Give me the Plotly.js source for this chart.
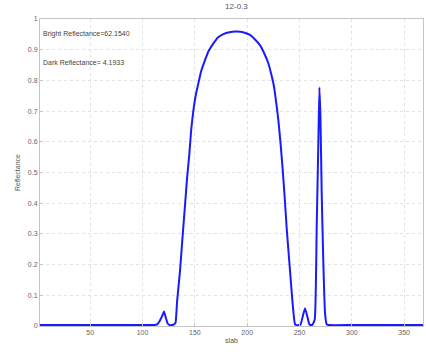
<!DOCTYPE html>
<html>
<head>
<meta charset="utf-8">
<script src="https://cdn.plot.ly/plotly-3.0.1.min.js"></script>
<style>html,body{margin:0;padding:0;background:#fff;}#chart{width:426px;height:354px;}</style>
</head>
<body>
<div id="chart"></div>
<script>
var slab = [2, 20, 40, 60, 80, 100, 110, 114, 117, 119, 120.5, 122, 124, 126, 128, 130, 131.5, 133, 135.8, 138, 140.5, 142.5, 144.7, 146.5, 148.5, 151, 153.3, 156, 159.7, 163, 167.6, 172, 177.2, 183, 190, 196, 202.7, 207, 212.2, 216, 220.2, 223, 225.6, 228, 229.8, 232, 233.9, 236, 237.7, 240, 241.6, 243.5, 245.7, 248, 251, 253, 255.3, 257.5, 259.5, 262, 264.5, 266.4, 268, 269, 270, 271.2, 272.8, 274.4, 276, 278, 300, 330, 368];
var reflectance = [0.003, 0.003, 0.003, 0.003, 0.003, 0.003, 0.003, 0.005, 0.02, 0.035, 0.047, 0.03, 0.008, 0.003, 0.003, 0.005, 0.01, 0.08, 0.18, 0.28, 0.39, 0.48, 0.56, 0.64, 0.70, 0.755, 0.79, 0.83, 0.866, 0.895, 0.92, 0.94, 0.951, 0.957, 0.959, 0.957, 0.948, 0.935, 0.915, 0.89, 0.856, 0.82, 0.78, 0.72, 0.67, 0.59, 0.51, 0.41, 0.32, 0.22, 0.15, 0.07, 0.006, 0.002, 0.005, 0.03, 0.058, 0.03, 0.005, 0.003, 0.02, 0.32, 0.6, 0.777, 0.68, 0.43, 0.2, 0.04, 0.005, 0.003, 0.003, 0.003, 0.003];
var xTicks = [50, 100, 150, 200, 250, 300, 350];
var yTicks = [0, 0.1, 0.2, 0.3, 0.4, 0.5, 0.6, 0.7, 0.8, 0.9, 1];
var yTickText = ['0', '0.1', '0.2', '0.3', '0.4', '0.5', '0.6', '0.7', '0.8', '0.9', '1'];
var titleText = '12-0.3';
var brightText = 'Bright Reflectance=62.1540';
var darkText = 'Dark Reflectance= 4.1933';

var trace = {
  x: slab, y: reflectance, type: 'scatter', mode: 'lines',
  line: {color: '#1a1aff', width: 2, shape: 'spline', smoothing: 0.4}, hoverinfo: 'skip'
};
var axisCommon = {
  showline: true, linecolor: '#c4c4c4', linewidth: 1, mirror: true,
  showgrid: true, gridcolor: '#e2e2e2', griddash: 'dot', gridwidth: 1,
  ticks: 'inside', ticklen: 3, tickcolor: '#c4c4c4', zeroline: false,
  tickfont: {family: 'Liberation Sans, Arial, sans-serif', size: 7, color: '#666'}
};
var layout = {
  width: 426, height: 354,
  margin: {l: 40, r: 3, t: 19, b: 28},
  paper_bgcolor: '#ffffff', plot_bgcolor: '#ffffff',
  showlegend: false,
  title: {text: titleText, x: 0.555, xanchor: 'center', y: 0.99, yanchor: 'top',
    font: {family: 'Liberation Sans, Arial, sans-serif', size: 8, color: '#555'}},
  xaxis: Object.assign({}, axisCommon, {range: [2, 368], tickvals: xTicks,
    title: {text: 'slab', standoff: 2, font: {family: 'Liberation Sans, Arial, sans-serif', size: 7, color: '#555'}}}),
  yaxis: Object.assign({}, axisCommon, {range: [0, 1], tickvals: yTicks, ticktext: yTickText,
    title: {text: 'Reflectance', standoff: 6, font: {family: 'Liberation Sans, Arial, sans-serif', size: 7, color: '#555'}}}),
  annotations: [
    {xref: 'paper', yref: 'paper', x: 0.003, y: 0.95, xanchor: 'left', yanchor: 'middle', showarrow: false,
      text: brightText, font: {family: 'Liberation Sans, Arial, sans-serif', size: 7, color: '#444'}},
    {xref: 'paper', yref: 'paper', x: 0.003, y: 0.857, xanchor: 'left', yanchor: 'middle', showarrow: false,
      text: darkText, font: {family: 'Liberation Sans, Arial, sans-serif', size: 7, color: '#444'}}
  ]
};
Plotly.newPlot('chart', [trace], layout, {displayModeBar: false, staticPlot: true});
</script>
</body>
</html>
